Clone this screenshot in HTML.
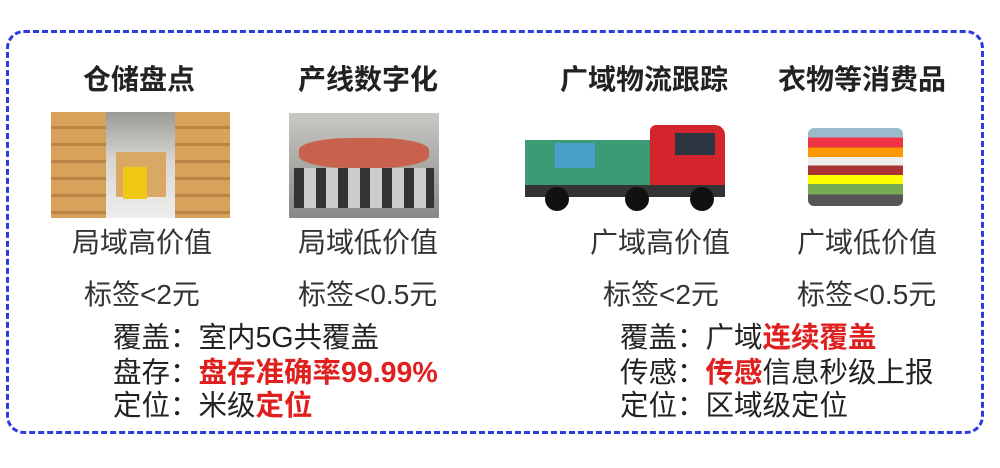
<!DOCTYPE html>
<html><head><meta charset="utf-8"><style>
body{margin:0;width:1000px;height:468px;background:#fff;position:relative;overflow:hidden;font-family:"Liberation Sans","Noto Sans CJK SC",sans-serif;color:#222}
.a{position:absolute;white-space:nowrap;line-height:40px}
.t{font-weight:bold;font-size:28px;color:#222}
.m{font-size:28px;color:#333}
.b{font-size:28.5px;color:#222}
.r{color:#e0201f;font-weight:bold}
</style></head><body>
<div class="a" style="left:6px;top:30px;width:978px;height:404px;border:3px dashed #2a3be0;border-radius:18px;box-sizing:border-box"></div>

<div class="a t" style="left:83px;top:60px">仓储盘点</div>
<div class="a t" style="left:298px;top:60px">产线数字化</div>
<div class="a t" style="left:560px;top:60px">广域物流跟踪</div>
<div class="a t" style="left:778px;top:60px">衣物等消费品</div>

<div class="a" style="left:51px;top:112px;width:179px;height:106px;background:linear-gradient(#9a9a98,#d9d6cf 45%,#eee 100%)">
 <div class="a" style="left:0;top:0;width:55px;height:106px;background:repeating-linear-gradient(#d8a25a 0 14px,#b98444 14px 17px)"></div>
 <div class="a" style="right:0;top:0;width:55px;height:106px;background:repeating-linear-gradient(#d8a25a 0 14px,#b98444 14px 17px)"></div>
 <div class="a" style="left:65px;top:40px;width:50px;height:45px;background:#d9a865"></div>
 <div class="a" style="left:72px;top:55px;width:24px;height:32px;background:#f0c814"></div>
</div>
<div class="a" style="left:289px;top:113px;width:150px;height:105px;background:linear-gradient(#c8c8c4,#a8a8a4 50%,#888 100%)">
 <div class="a" style="left:10px;top:25px;width:130px;height:30px;background:#c9624c;border-radius:40%"></div>
 <div class="a" style="left:5px;top:55px;width:140px;height:40px;background:repeating-linear-gradient(90deg,#333 0 10px,#ccc 10px 22px)"></div>
</div>
<div class="a" style="left:525px;top:125px;width:205px;height:90px">
 <div class="a" style="left:0;top:15px;width:125px;height:45px;background:#3c9a74"></div>
 <div class="a" style="left:30px;top:18px;width:40px;height:25px;background:#4aa0e0;opacity:.8"></div>
 <div class="a" style="left:125px;top:0;width:75px;height:68px;background:#d3252b;border-radius:6px 10px 0 0"></div>
 <div class="a" style="left:150px;top:8px;width:40px;height:22px;background:#2b3640"></div>
 <div class="a" style="left:0;top:60px;width:200px;height:12px;background:#333"></div>
 <div class="a" style="left:20px;top:62px;width:24px;height:24px;background:#111;border-radius:50%"></div>
 <div class="a" style="left:100px;top:62px;width:24px;height:24px;background:#111;border-radius:50%"></div>
 <div class="a" style="left:165px;top:62px;width:24px;height:24px;background:#111;border-radius:50%"></div>
</div>
<div class="a" style="left:808px;top:128px;width:95px;height:78px;background:linear-gradient(#9bc 0 12%,#e34 12% 25%,#f90 25% 37%,#eee 37% 48%,#a33 48% 60%,#ff0 60% 72%,#7a5 72% 85%,#555 85%);border-radius:6px"></div>

<div class="a m" style="left:72px;top:223px">局域高价值</div>
<div class="a m" style="left:298px;top:223px">局域低价值</div>
<div class="a m" style="left:590px;top:223px">广域高价值</div>
<div class="a m" style="left:797px;top:223px">广域低价值</div>

<div class="a m" style="left:84px;top:275px">标签&lt;2元</div>
<div class="a m" style="left:298px;top:275px">标签&lt;0.5元</div>
<div class="a m" style="left:603px;top:275px">标签&lt;2元</div>
<div class="a m" style="left:797px;top:275px">标签&lt;0.5元</div>

<div class="a b" style="left:113px;top:318px">覆盖：室内5G共覆盖</div>
<div class="a b" style="left:113px;top:353px">盘存：<span class="r">盘存准确率99.99%</span></div>
<div class="a b" style="left:113px;top:386px">定位：米级<span class="r">定位</span></div>

<div class="a b" style="left:620px;top:318px">覆盖：广域<span class="r">连续覆盖</span></div>
<div class="a b" style="left:620px;top:353px">传感：<span class="r">传感</span>信息秒级上报</div>
<div class="a b" style="left:620px;top:386px">定位：区域级定位</div>
</body></html>
